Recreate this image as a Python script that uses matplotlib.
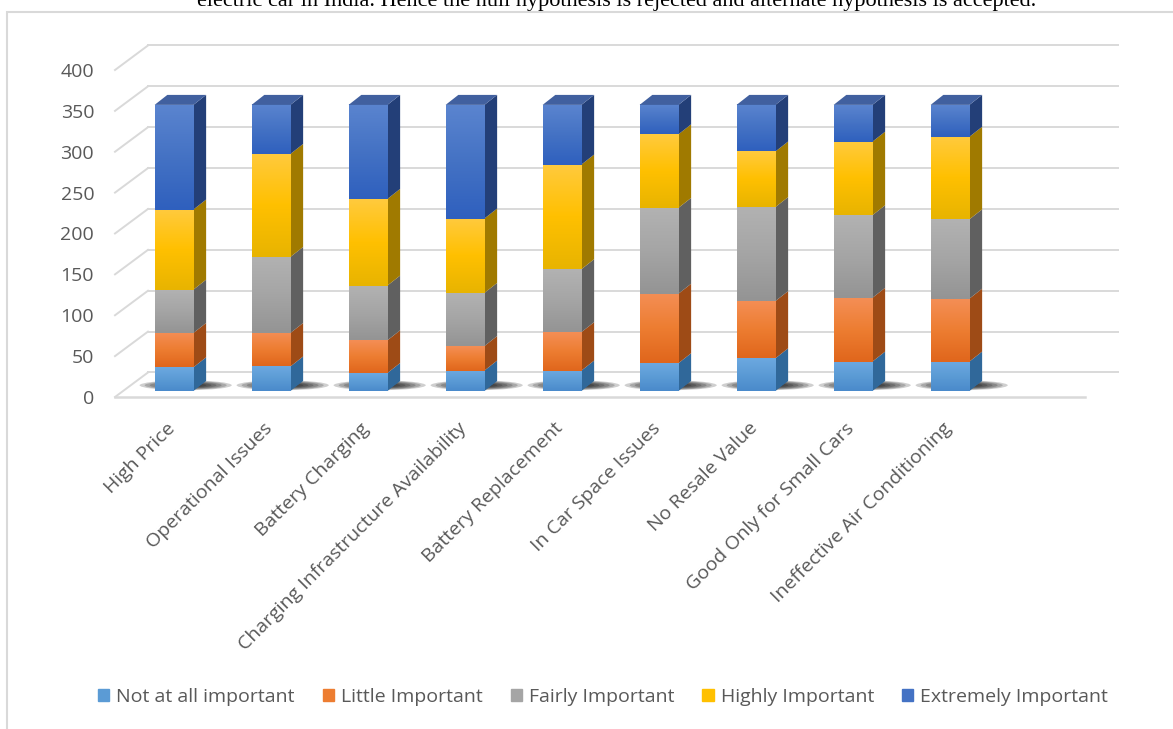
# Stacked 3D-look bar chart: importance of barriers to electric car adoption
import numpy as np
import matplotlib
matplotlib.use('Agg')
import matplotlib.pyplot as plt
from matplotlib.patches import Polygon, Ellipse, Rectangle
from matplotlib.colors import LinearSegmentedColormap
from matplotlib.transforms import offset_copy

plt.rcParams['font.family'] = ['Open Sans', 'DejaVu Sans']

# data
categories = ['High Price', 'Operational Issues', 'Battery Charging',
              'Charging Infrastructure Availability', 'Battery Replacement',
              'In Car Space Issues', 'No Resale Value',
              'Good Only for Small Cars', 'Ineffective Air Conditioning']
not_at_all = [29, 30, 22, 25, 25, 34, 40, 36, 36]
little = [42, 41, 40, 30, 47, 85, 70, 78, 77]
fairly = [53, 93, 67, 65, 77, 105, 115, 101, 97]
highly = [98, 126, 106, 91, 128, 90, 68, 90, 101]
extremely = [128, 60, 115, 139, 73, 36, 57, 45, 39]
series_names = ['Not at all important', 'Little Important', 'Fairly Important',
                'Highly Important', 'Extremely Important']
y_ticks = [0, 50, 100, 150, 200, 250, 300, 350, 400]

# colours: legend/mid, front top, front bottom, side face
mid_cols = ['#5B9BD5', '#ED7D31', '#A5A5A5', '#FFC000', '#4472C4']
top_cols = ['#6CA8E0', '#F48E55', '#B2B2B2', '#FFCA3D', '#5A84CF']
bot_cols = ['#4A8ACB', '#E0661C', '#949494', '#E8B400', '#2F60BE']
side_cols = ['#30689A', '#9E4B16', '#606060', '#A07A00', '#233F78']
cap_col = '#41609F'
grid_col = '#D9D9D9'
text_col = '#595959'

W, H = 1173, 729
fig = plt.figure(figsize=(W / 100, H / 100), dpi=100)
ax = fig.add_axes([115 / W, (H - 397) / H, 970 / W, 327 / H])
xmin, xmax = -0.526, 9.474
ax.set_facecolor('none')

# depth of the box and of the bars, in data units
wall_dx, wall_dy = 0.34, 30
bar_w = 0.40
sdx, sdy = 0.131, 12.2
bar_tr = offset_copy(ax.transData, fig=fig, x=8, y=6, units='dots')

# walls and floor
for v in y_ticks:
    ax.plot([xmin + wall_dx, xmax + wall_dx], [v + wall_dy, v + wall_dy],
            color=grid_col, lw=1.4, zorder=1, clip_on=False)
    ax.plot([xmin, xmin + wall_dx], [v, v + wall_dy], color=grid_col, lw=1.4,
            zorder=1, clip_on=False)
ax.plot([xmin, xmax], [0, 0], color=grid_col, lw=1.8, zorder=1, clip_on=False)

x = np.arange(len(categories))

# shadows on the floor
for xi in x:
    for k in range(8):
        s = 1 - k * 0.11
        ax.add_patch(Ellipse((xi + 0.12, 7), 0.95 * s, 12 * s, color='black',
                             alpha=0.19, lw=0, transform=bar_tr, zorder=2))

bottom = np.zeros(len(categories))
for vals, c, ct, cb, cs in zip([not_at_all, little, fairly, highly, extremely],
                               mid_cols, top_cols, bot_cols, side_cols):
    vals = np.array(vals, dtype=float)
    bars = ax.bar(x, vals, bar_w, bottom=bottom, color=c, lw=0,
                  transform=bar_tr, zorder=3)
    cmap = LinearSegmentedColormap.from_list('g', [ct, c, cb])
    grad = np.linspace(0, 1, 64).reshape(-1, 1)
    for r, b, v in zip(bars, bottom, vals):
        x0 = r.get_x()
        x1 = x0 + r.get_width()
        ax.imshow(grad, extent=(x0, x1, b, b + v), transform=bar_tr, cmap=cmap,
                  aspect='auto', interpolation='bilinear', zorder=3.1)
        ax.add_patch(Polygon([[x1, b], [x1 + sdx, b + sdy], [x1 + sdx, b + v + sdy],
                              [x1, b + v]], closed=True, color=cs, lw=0,
                             transform=bar_tr, zorder=3))
    bottom += vals

# caps on top of the stacks
for xi, t in zip(x, bottom):
    x0, x1 = xi - bar_w / 2, xi + bar_w / 2
    ax.add_patch(Polygon([[x0, t], [x1, t], [x1 + sdx, t + sdy], [x0 + sdx, t + sdy]],
                         closed=True, color=cap_col, lw=0, transform=bar_tr, zorder=3.2))

ax.set_xlim(xmin, xmax)
ax.set_ylim(0, 400)
ax.set_yticks(y_ticks)
ax.set_xticks(x)
ax.set_xticklabels(categories, rotation=45, ha='right', va='top',
                   rotation_mode='anchor')
ax.tick_params(axis='x', length=0, pad=16, labelsize=14, labelcolor=text_col)
ax.tick_params(axis='y', length=0, pad=15, labelsize=14, labelcolor=text_col)
for sp in ax.spines.values():
    sp.set_visible(False)

# legend
handles = [Rectangle((0, 0), 1, 1, color=c) for c in mid_cols]
fig.legend(handles, series_names, loc='center', bbox_to_anchor=(603 / W, 1 - 697 / H),
           ncol=5, frameon=False, fontsize=14, handlelength=0.57, handleheight=0.57,
           handletextpad=0.36, columnspacing=1.45, labelcolor=text_col)

# cut-off sentence above the chart (cut off in the source too) and the chart border
fig.text(617 / W, 1 - 6 / H,
         'electric car in India. Hence the null hypothesis is rejected and alternate hypothesis is accepted.',
         family='Liberation Serif', fontsize=16, ha='center', va='baseline', color='black')
fig.add_artist(Rectangle((7 / W, -0.05), 1.2, (H - 12) / H + 0.05, transform=fig.transFigure,
                         fill=False, edgecolor=grid_col, lw=1.5))

fig.savefig('out.png', dpi=100)
